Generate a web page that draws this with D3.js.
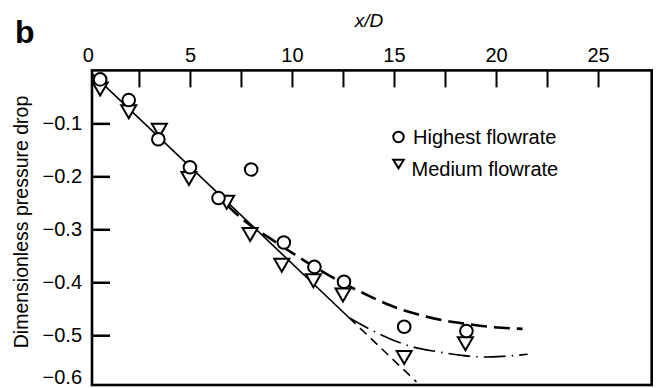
<!DOCTYPE html>
<html>
<head>
<meta charset="utf-8">
<script src="https://cdn.jsdelivr.net/npm/d3@7"></script>
<style>
  html, body { margin: 0; padding: 0; background: #fff; }
  svg { display: block; font-family: "Liberation Sans", Arial, Helvetica, sans-serif; }
</style>
</head>
<body>
<svg id="chart" width="659" height="388"></svg>
<script>
// Measured pressure drop along the pipe (x/D) for two flowrates
const highestX = [0.6, 2.0, 3.45, 5.0, 6.4, 8.0, 9.6, 11.1, 12.55, 15.5, 18.55];
const highestY = [-0.017, -0.056, -0.130, -0.183, -0.241, -0.187, -0.325, -0.371, -0.399, -0.484, -0.492];
const mediumX  = [0.6, 2.0, 3.5, 4.95, 6.8, 7.95, 9.5, 11.05, 12.5, 15.5, 18.5];
const mediumY  = [-0.035, -0.078, -0.113, -0.204, -0.249, -0.310, -0.368, -0.397, -0.424, -0.542, -0.516];

// Fitted / predicted curves
const lineSolid      = [[0.2, -0.006], [12.8, -0.467]];
const lineExtension  = [[12.8, -0.467], [16.1, -0.588]];
const curveHighest   = [[6.8, -0.254], [7.7, -0.285], [8.8, -0.314], [10.6, -0.359], [11.9, -0.389],
                        [13.9, -0.428], [14.9, -0.445], [16.1, -0.460], [17.4, -0.472], [18.6, -0.479],
                        [19.9, -0.485], [21.3, -0.488]];
const curveMedium    = [[12.8, -0.467], [14.3, -0.498], [15.0, -0.510], [16.0, -0.523], [17.1, -0.531],
                        [18.1, -0.537], [19.35, -0.541], [20.3, -0.540], [21.55, -0.536]];

const xTicks = [0, 2.5, 5, 7.5, 10, 12.5, 15, 17.5, 20, 22.5, 25];
const xLabels = [0, 5, 10, 15, 20, 25];
const yTicks = [-0.1, -0.2, -0.3, -0.4, -0.5, -0.6];
const legendLabels = ["Highest flowrate", "Medium flowrate"];

const svg = d3.select("#chart");

// Frame extent in data units
const xDomain = [0.2, 27.63];
const yDomain = [0, -0.594];

const x = d3.scaleLinear().domain(xDomain).range([92, 651.7]);
const y = d3.scaleLinear().domain(yDomain).range([70.4, 385]);

const fs = 20;

// Panel letter
svg.append("text").attr("x", 15).attr("y", 43)
  .attr("font-size", 32).attr("font-weight", "bold").text("b");

// Top axis title
svg.append("text").attr("x", 369).attr("y", 27)
  .attr("font-size", 19).attr("font-style", "italic")
  .attr("text-anchor", "middle").text("x/D");

// Y axis title
svg.append("text")
  .attr("transform", "translate(28,222) rotate(-90)")
  .attr("font-size", 19.5).attr("text-anchor", "middle")
  .text("Dimensionless pressure drop");

// Top axis: inward ticks
const xAxis = d3.axisTop(x)
  .tickValues(xTicks)
  .tickSizeInner(-17).tickSizeOuter(0).tickPadding(8.6)
  .tickFormat(d => xLabels.includes(d) ? String(d) : "");
const gx = svg.append("g").attr("transform", `translate(0,${y(0)})`).call(xAxis);
gx.select(".domain").remove();
gx.selectAll(".tick line").attr("stroke", "#000").attr("stroke-width", 2)
  .filter(d => d === 0).remove();
gx.selectAll(".tick text").attr("font-size", fs).attr("font-family", null).attr("fill", "#000");

// Left axis: inward ticks
const yAxis = d3.axisLeft(y)
  .tickValues(yTicks)
  .tickSizeInner(-18).tickSizeOuter(0).tickPadding(10)
  .tickFormat(d => "\u2212" + d3.format(".1f")(Math.abs(d)));
const gy = svg.append("g").attr("transform", `translate(${x(xDomain[0])},0)`).call(yAxis);
gy.select(".domain").remove();
gy.selectAll(".tick line").attr("stroke", "#000").attr("stroke-width", 2.5)
  .filter(d => d === -0.6).remove();
gy.selectAll(".tick text").attr("font-size", fs).attr("font-family", null).attr("fill", "#000");
// lowest label sits on the bottom edge of the frame; keep it inside the page
gy.selectAll(".tick").filter(d => d === -0.6).select("text").attr("dy", "-0.22em");

// Frame
svg.append("rect")
  .attr("x", x(xDomain[0])).attr("y", y(yDomain[0]))
  .attr("width", x(xDomain[1]) - x(xDomain[0]))
  .attr("height", y(yDomain[1]) - y(yDomain[0]))
  .attr("fill", "none").attr("stroke", "#000").attr("stroke-width", 2.6);

// Lines
const line = d3.line().x(d => x(d[0])).y(d => y(d[1]));
const smooth = d3.line().x(d => x(d[0])).y(d => y(d[1])).curve(d3.curveMonotoneX);

svg.append("path").attr("d", line(lineSolid))
  .attr("fill", "none").attr("stroke", "#000").attr("stroke-width", 1.6);
svg.append("path").attr("d", line(lineExtension))
  .attr("fill", "none").attr("stroke", "#000").attr("stroke-width", 1.6)
  .attr("stroke-dasharray", "9,6");
svg.append("path").attr("d", smooth(curveHighest))
  .attr("fill", "none").attr("stroke", "#000").attr("stroke-width", 2.6)
  .attr("stroke-dasharray", "16,7");
svg.append("path").attr("d", smooth(curveMedium))
  .attr("fill", "none").attr("stroke", "#000").attr("stroke-width", 1.6)
  .attr("stroke-dasharray", "22,6,1.5,6");

// Markers
const tri = (cx, cy, w, h) =>
  `M${cx - w / 2},${cy - h / 2}L${cx + w / 2},${cy - h / 2}L${cx},${cy + h / 2}Z`;

svg.append("g").selectAll("path")
  .data(d3.range(mediumX.length))
  .join("path")
  .attr("d", i => tri(x(mediumX[i]), y(mediumY[i]), 15, 13))
  .attr("fill", "#fff").attr("stroke", "#000").attr("stroke-width", 2)
  .attr("stroke-linejoin", "miter");

svg.append("g").selectAll("circle")
  .data(d3.range(highestX.length))
  .join("circle")
  .attr("cx", i => x(highestX[i])).attr("cy", i => y(highestY[i]))
  .attr("r", 6.3)
  .attr("fill", "#fff").attr("stroke", "#000").attr("stroke-width", 2);

// Legend
const lg = svg.append("g");
lg.append("circle").attr("cx", 398.5).attr("cy", 137).attr("r", 5.2)
  .attr("fill", "#fff").attr("stroke", "#000").attr("stroke-width", 2);
lg.append("text").attr("x", 413).attr("y", 143.5).attr("font-size", fs).text(legendLabels[0]);
lg.append("path").attr("d", tri(398.5, 164, 10.5, 8.5))
  .attr("fill", "#fff").attr("stroke", "#000").attr("stroke-width", 2);
lg.append("text").attr("x", 411.5).attr("y", 175.5).attr("font-size", fs).text(legendLabels[1]);
</script>
</body>
</html>
